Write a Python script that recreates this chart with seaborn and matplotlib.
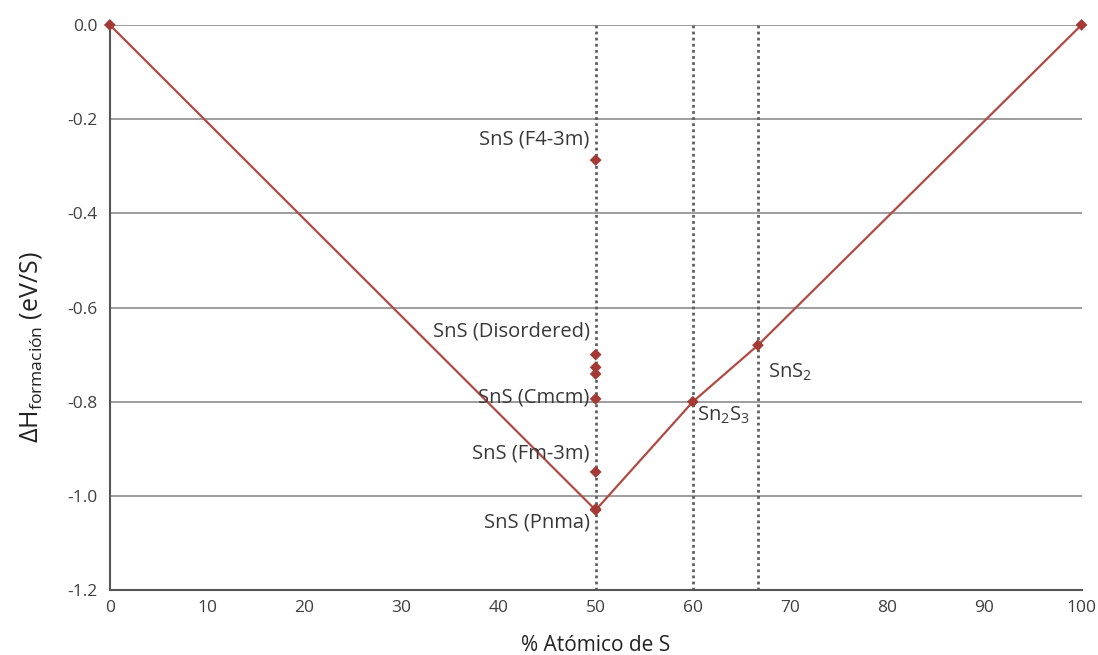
import pandas as pd
import seaborn as sns
import matplotlib.pyplot as plt

# convex hull of Sn-S formation enthalpy
hull_x = [0, 50, 60, 66.7, 100]
hull_y = [0.0, -1.03, -0.80, -0.68, 0.0]

# SnS polymorphs at 50 % S
sns_x = [50, 50, 50, 50, 50, 50, 50]
sns_y = [-0.287, -0.70, -0.727, -0.741, -0.794, -0.949, -1.028]

phase_lines = [50, 60, 66.7]

labels = ["SnS (F4-3m)", "SnS (Disordered)", "SnS (Cmcm)", "SnS (Fm-3m)", "SnS (Pnma)"]
label_y = [-0.244, -0.65, -0.792, -0.909, -1.056]

sns.set_style("white")
plt.rcParams['font.family'] = ['Open Sans', 'DejaVu Sans']
plt.rcParams['mathtext.fontset'] = 'custom'
plt.rcParams['mathtext.rm'] = 'Open Sans'
plt.rcParams['mathtext.it'] = 'Open Sans:italic'

fig = plt.figure(figsize=(10.98, 6.55), dpi=100)
ax = fig.add_axes([0.100, 0.099, 0.885, 0.863])

for y in [-0.2, -0.4, -0.6, -0.8, -1.0]:
    ax.axhline(y, color='#8c8c8c', lw=1.2, zorder=0)
ax.axhline(0.0, color='#8c8c8c', lw=1.2, zorder=0)
for x in phase_lines:
    ax.axvline(x, color='#606060', lw=2, ls=(0, (1, 1.2)), zorder=1)

hull = pd.DataFrame({'x': hull_x, 'y': hull_y})
sns.lineplot(data=hull, x='x', y='y', color='#b04a42', lw=1.6, ax=ax, zorder=3)
sns.scatterplot(data=hull, x='x', y='y', marker='D', s=36, color='#a33a35',
                edgecolor='none', ax=ax, zorder=4, clip_on=False)
pts = pd.DataFrame({'x': sns_x, 'y': sns_y})
sns.scatterplot(data=pts, x='x', y='y', marker='D', s=36, color='#a33a35',
                edgecolor='none', ax=ax, zorder=4)

tc = '#383838'
for lab, ly in zip(labels, label_y):
    ax.text(49.4, ly, lab, ha='right', va='center', fontsize=14.5, color=tc)
ax.text(60.4, -0.828, r'Sn$_2$S$_3$', ha='left', va='center', fontsize=14.5, color=tc)
ax.text(67.7, -0.737, r'SnS$_2$', ha='left', va='center', fontsize=14.5, color=tc)

ax.set_xlim(0, 100)
ax.set_ylim(-1.2, 0.0)
ax.set_xticks(range(0, 101, 10))
ax.set_yticks([-1.2, -1.0, -0.8, -0.6, -0.4, -0.2, 0.0])
ax.set_yticklabels(['-1.2', '-1.0', '-0.8', '-0.6', '-0.4', '-0.2', '0.0'])
ax.tick_params(axis='both', labelsize=12.5, colors='#404040')
ax.tick_params(axis='y', length=5, width=1, direction='out', color='#555555', pad=4)
ax.tick_params(axis='x', length=0, pad=7)
for s in ['top', 'right']:
    ax.spines[s].set_visible(False)
for s in ['left', 'bottom']:
    ax.spines[s].set_color('#555555')
    ax.spines[s].set_linewidth(1.5)

ax.set_xlabel('% Atómico de S', fontsize=15, color='#222222', labelpad=14)
ax.set_ylabel(r'$\Delta$H$_{\mathrm{formación}}$ (eV/S)', fontsize=18, color='#222222')
ax.yaxis.set_label_coords(-0.068, 0.43)

fig.savefig('out.png', dpi=100)
